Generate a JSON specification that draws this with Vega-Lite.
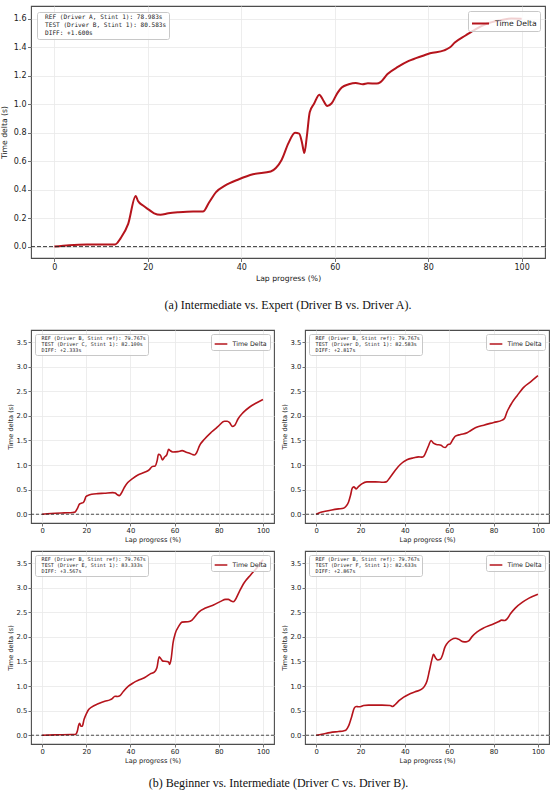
{
  "$schema": "https://vega.github.io/schema/vega-lite/v6.json",
  "padding": {"left": 0, "top": 5, "right": 3, "bottom": 4},
  "spacing": 17,
  "align": "none",
  "bounds": "full",
  "datasets": {
    "a": [
      {"x": 0, "y": 0}, {"x": 3.2, "y": 0.01}, {"x": 7, "y": 0.015}, {"x": 10.7, "y": 0.015}, {"x": 13, "y": 0.015},
      {"x": 14.2, "y": 0.06}, {"x": 15.8, "y": 0.16}, {"x": 17.4, "y": 0.356}, {"x": 17.9, "y": 0.32}, {"x": 18.9, "y": 0.29},
      {"x": 20.2, "y": 0.26}, {"x": 21.35, "y": 0.234}, {"x": 22.7, "y": 0.224}, {"x": 24.4, "y": 0.234}, {"x": 26.6, "y": 0.241},
      {"x": 29.7, "y": 0.246}, {"x": 31.8, "y": 0.246}, {"x": 33.1, "y": 0.31}, {"x": 34.6, "y": 0.383}, {"x": 36.5, "y": 0.428},
      {"x": 39.5, "y": 0.473}, {"x": 42.5, "y": 0.508}, {"x": 46.3, "y": 0.527}, {"x": 47.4, "y": 0.552}, {"x": 48.6, "y": 0.607},
      {"x": 50.1, "y": 0.727}, {"x": 51.5, "y": 0.8}, {"x": 52.4, "y": 0.794}, {"x": 53, "y": 0.73}, {"x": 53.5, "y": 0.657},
      {"x": 54.05, "y": 0.78}, {"x": 54.65, "y": 0.943}, {"x": 55.6, "y": 1.005}, {"x": 56.7, "y": 1.067}, {"x": 57.5, "y": 1.03},
      {"x": 58.4, "y": 0.988}, {"x": 59.3, "y": 1.005}, {"x": 60.6, "y": 1.08}, {"x": 61.5, "y": 1.117}, {"x": 63, "y": 1.14},
      {"x": 64.5, "y": 1.15}, {"x": 66, "y": 1.14}, {"x": 67.1, "y": 1.147}, {"x": 69, "y": 1.145}, {"x": 69.8, "y": 1.155},
      {"x": 71.3, "y": 1.212}, {"x": 73.6, "y": 1.264}, {"x": 75.85, "y": 1.304}, {"x": 78.9, "y": 1.341}, {"x": 80.4, "y": 1.358},
      {"x": 83.4, "y": 1.378}, {"x": 84.6, "y": 1.398}, {"x": 85.7, "y": 1.433}, {"x": 88, "y": 1.483}, {"x": 90.2, "y": 1.528},
      {"x": 92.5, "y": 1.565}, {"x": 95.5, "y": 1.59}, {"x": 97.8, "y": 1.602}, {"x": 100, "y": 1.6}
    ],
    "c": [
      {"x": 0, "y": 0}, {"x": 4.1, "y": 0.014}, {"x": 10.1, "y": 0.027}, {"x": 13.9, "y": 0.034}, {"x": 15, "y": 0.047},
      {"x": 15.9, "y": 0.108}, {"x": 17, "y": 0.21}, {"x": 17.7, "y": 0.223}, {"x": 18.6, "y": 0.237}, {"x": 19.2, "y": 0.278},
      {"x": 19.9, "y": 0.359}, {"x": 21, "y": 0.386}, {"x": 22.5, "y": 0.406}, {"x": 25.2, "y": 0.42}, {"x": 28.2, "y": 0.427},
      {"x": 32, "y": 0.44}, {"x": 33.1, "y": 0.433}, {"x": 34, "y": 0.4}, {"x": 35, "y": 0.379}, {"x": 35.8, "y": 0.42},
      {"x": 37.3, "y": 0.548}, {"x": 38.8, "y": 0.643}, {"x": 41.1, "y": 0.731}, {"x": 43.4, "y": 0.799}, {"x": 46.4, "y": 0.853},
      {"x": 48.6, "y": 0.907}, {"x": 49.8, "y": 0.968}, {"x": 51.2, "y": 0.982}, {"x": 52.1, "y": 1.09}, {"x": 52.7, "y": 1.219},
      {"x": 53.6, "y": 1.198}, {"x": 54.5, "y": 1.103}, {"x": 55.4, "y": 1.158}, {"x": 56.5, "y": 1.212}, {"x": 57.3, "y": 1.32},
      {"x": 58, "y": 1.293}, {"x": 59.2, "y": 1.266}, {"x": 61.5, "y": 1.273}, {"x": 63.4, "y": 1.293}, {"x": 65.3, "y": 1.259},
      {"x": 66.8, "y": 1.239}, {"x": 68.3, "y": 1.212}, {"x": 69, "y": 1.205}, {"x": 69.9, "y": 1.246}, {"x": 71.3, "y": 1.395},
      {"x": 73.6, "y": 1.53}, {"x": 76.6, "y": 1.666}, {"x": 79.6, "y": 1.781}, {"x": 82.6, "y": 1.889}, {"x": 83.8, "y": 1.889},
      {"x": 84.9, "y": 1.862}, {"x": 86.1, "y": 1.787}, {"x": 87.2, "y": 1.808}, {"x": 88.7, "y": 1.936}, {"x": 91, "y": 2.065},
      {"x": 94, "y": 2.18}, {"x": 97, "y": 2.261}, {"x": 100, "y": 2.333}
    ],
    "d": [
      {"x": 0, "y": 0}, {"x": 1.8, "y": 0.034}, {"x": 4.1, "y": 0.061}, {"x": 7.1, "y": 0.088}, {"x": 10.1, "y": 0.109},
      {"x": 12.3, "y": 0.122}, {"x": 13.4, "y": 0.156}, {"x": 14.6, "y": 0.244}, {"x": 15.5, "y": 0.38}, {"x": 16.3, "y": 0.529},
      {"x": 17, "y": 0.556}, {"x": 18.1, "y": 0.516}, {"x": 19.1, "y": 0.563}, {"x": 20.6, "y": 0.617}, {"x": 22.9, "y": 0.658},
      {"x": 26.7, "y": 0.658}, {"x": 30.4, "y": 0.651}, {"x": 31.6, "y": 0.658}, {"x": 33.4, "y": 0.753}, {"x": 35.7, "y": 0.896},
      {"x": 37.95, "y": 1.011}, {"x": 40.96, "y": 1.106}, {"x": 43.98, "y": 1.147}, {"x": 46.2, "y": 1.167}, {"x": 47.7, "y": 1.16},
      {"x": 48.5, "y": 1.174}, {"x": 49.5, "y": 1.262}, {"x": 50.75, "y": 1.398}, {"x": 51.8, "y": 1.499}, {"x": 52.9, "y": 1.445},
      {"x": 54.2, "y": 1.418}, {"x": 56.3, "y": 1.404}, {"x": 57.2, "y": 1.37}, {"x": 58.3, "y": 1.357}, {"x": 59.3, "y": 1.411},
      {"x": 60.5, "y": 1.431}, {"x": 61.6, "y": 1.513}, {"x": 62.8, "y": 1.587}, {"x": 65.1, "y": 1.621}, {"x": 68.1, "y": 1.655},
      {"x": 69.1, "y": 1.683}, {"x": 71.8, "y": 1.757}, {"x": 75.6, "y": 1.811}, {"x": 80.1, "y": 1.866}, {"x": 83.9, "y": 1.913},
      {"x": 85.1, "y": 1.961}, {"x": 86.1, "y": 2.083}, {"x": 88.4, "y": 2.273}, {"x": 90.7, "y": 2.415}, {"x": 93.7, "y": 2.585},
      {"x": 96.7, "y": 2.693}, {"x": 100, "y": 2.817}
    ],
    "e": [
      {"x": 0, "y": 0}, {"x": 5.6, "y": 0.007}, {"x": 13.2, "y": 0.014}, {"x": 15, "y": 0.014}, {"x": 15.96, "y": 0.081},
      {"x": 16.6, "y": 0.21}, {"x": 17, "y": 0.244}, {"x": 17.6, "y": 0.183}, {"x": 18.2, "y": 0.183}, {"x": 19, "y": 0.319},
      {"x": 20.1, "y": 0.441}, {"x": 21.1, "y": 0.522}, {"x": 22.6, "y": 0.577}, {"x": 25.4, "y": 0.638}, {"x": 28.4, "y": 0.692},
      {"x": 30.7, "y": 0.719}, {"x": 31.8, "y": 0.746}, {"x": 33, "y": 0.794}, {"x": 34.2, "y": 0.787}, {"x": 35.3, "y": 0.807},
      {"x": 36.8, "y": 0.889}, {"x": 39.1, "y": 0.997}, {"x": 41.3, "y": 1.065}, {"x": 44.4, "y": 1.133}, {"x": 46.7, "y": 1.18},
      {"x": 49, "y": 1.248}, {"x": 50.8, "y": 1.282}, {"x": 52, "y": 1.37}, {"x": 53, "y": 1.594}, {"x": 53.8, "y": 1.554},
      {"x": 54.7, "y": 1.506}, {"x": 56.5, "y": 1.499}, {"x": 57.3, "y": 1.486}, {"x": 57.75, "y": 1.438}, {"x": 58.4, "y": 1.54},
      {"x": 59.3, "y": 1.879}, {"x": 60.3, "y": 2.069}, {"x": 61.9, "y": 2.218}, {"x": 63.4, "y": 2.3}, {"x": 66.1, "y": 2.307},
      {"x": 67.9, "y": 2.341}, {"x": 69.1, "y": 2.402}, {"x": 70.97, "y": 2.503}, {"x": 74, "y": 2.585}, {"x": 77.8, "y": 2.653},
      {"x": 80.85, "y": 2.721}, {"x": 83.1, "y": 2.761}, {"x": 84.35, "y": 2.761}, {"x": 85.4, "y": 2.734}, {"x": 86.5, "y": 2.714},
      {"x": 87.4, "y": 2.748}, {"x": 89.2, "y": 2.91}, {"x": 91.5, "y": 3.1}, {"x": 94.5, "y": 3.263}, {"x": 97.6, "y": 3.42},
      {"x": 100, "y": 3.567}
    ],
    "f": [
      {"x": 0, "y": 0}, {"x": 2.6, "y": 0.02}, {"x": 6.3, "y": 0.054}, {"x": 10.1, "y": 0.075}, {"x": 12.3, "y": 0.088},
      {"x": 13.4, "y": 0.102}, {"x": 14.6, "y": 0.184}, {"x": 16.1, "y": 0.388}, {"x": 17.2, "y": 0.551}, {"x": 18.1, "y": 0.585},
      {"x": 19.1, "y": 0.578}, {"x": 20.3, "y": 0.585}, {"x": 21.4, "y": 0.605}, {"x": 23.6, "y": 0.612}, {"x": 29.7, "y": 0.612},
      {"x": 33.4, "y": 0.605}, {"x": 34.5, "y": 0.585}, {"x": 35.7, "y": 0.625}, {"x": 37.5, "y": 0.707}, {"x": 39.5, "y": 0.775},
      {"x": 41.7, "y": 0.829}, {"x": 44.7, "y": 0.884}, {"x": 47.4, "y": 0.931}, {"x": 48.9, "y": 0.999}, {"x": 50, "y": 1.101},
      {"x": 51.05, "y": 1.305}, {"x": 52.3, "y": 1.557}, {"x": 52.9, "y": 1.645}, {"x": 53.8, "y": 1.577}, {"x": 54.8, "y": 1.53},
      {"x": 56, "y": 1.543}, {"x": 57.1, "y": 1.645}, {"x": 58, "y": 1.781}, {"x": 59, "y": 1.863}, {"x": 61, "y": 1.944},
      {"x": 62.8, "y": 1.971}, {"x": 64.3, "y": 1.951}, {"x": 66.1, "y": 1.903}, {"x": 67.6, "y": 1.897}, {"x": 68.8, "y": 1.917},
      {"x": 70.3, "y": 2.005}, {"x": 72.6, "y": 2.101}, {"x": 75.6, "y": 2.182}, {"x": 79.4, "y": 2.25}, {"x": 82.4, "y": 2.311},
      {"x": 83.6, "y": 2.339}, {"x": 85.1, "y": 2.332}, {"x": 86.1, "y": 2.366}, {"x": 87.7, "y": 2.474}, {"x": 89.9, "y": 2.59},
      {"x": 92.9, "y": 2.699}, {"x": 96, "y": 2.787}, {"x": 100, "y": 2.867}
    ],
    "na": [
      {"k": 1, "t": "REF (Driver A, Stint 1): 78.983s"},
      {"k": 2, "t": "TEST (Driver B, Stint 1): 80.583s"},
      {"k": 3, "t": "DIFF: +1.600s"}
    ],
    "nc": [
      {"k": 1, "t": "REF (Driver B, Stint ref): 79.767s"},
      {"k": 2, "t": "TEST (Driver C, Stint 1): 82.100s"},
      {"k": 3, "t": "DIFF: +2.333s"}
    ],
    "nd": [
      {"k": 1, "t": "REF (Driver B, Stint ref): 79.767s"},
      {"k": 2, "t": "TEST (Driver D, Stint 1): 82.583s"},
      {"k": 3, "t": "DIFF: +2.817s"}
    ],
    "ne": [
      {"k": 1, "t": "REF (Driver B, Stint ref): 79.767s"},
      {"k": 2, "t": "TEST (Driver E, Stint 1): 83.333s"},
      {"k": 3, "t": "DIFF: +3.567s"}
    ],
    "nf": [
      {"k": 1, "t": "REF (Driver B, Stint ref): 79.767s"},
      {"k": 2, "t": "TEST (Driver F, Stint 1): 82.633s"},
      {"k": 3, "t": "DIFF: +2.867s"}
    ]
  },
  "vconcat": [
    {
      "width": 514,
      "height": 252,
      "title": {"text": "(a) Intermediate vs. Expert (Driver B vs. Driver A).", "offset": 18},
      "layer": [
        {
          "data": {"name": "a"},
          "mark": {"type": "line", "interpolate": "monotone", "strokeWidth": 2},
          "encoding": {
            "x": {
              "field": "x", "type": "quantitative",
              "scale": {"domain": [-5, 105], "nice": false},
              "axis": {"values": [0, 20, 40, 60, 80, 100], "tickCount": 20, "title": "Lap progress (%)", "labelFontSize": 8, "titleFontSize": 7.7, "tickSize": 3.5, "labelPadding": 1.5, "titlePadding": 3}
            },
            "y": {
              "field": "y", "type": "quantitative",
              "scale": {"domain": [-0.08, 1.69], "nice": false, "zero": false},
              "axis": {"values": [0, 0.2, 0.4, 0.6, 0.8, 1, 1.2, 1.4, 1.6], "tickCount": 20, "format": ".1f", "title": "Time delta (s)", "labelFontSize": 8, "titleFontSize": 7.7, "tickSize": 3.5, "labelPadding": 1.5, "titlePadding": 4.5}
            },
            "color": {
              "datum": "Time Delta",
              "scale": {"range": ["#b5141c"]},
              "legend": {"orient": "top-right", "offset": 5, "labelFontSize": 7.7, "symbolSize": 289, "symbolStrokeWidth": 2, "padding": 3, "labelOffset": 5}
            }
          }
        },
        {
          "data": {"values": [{}]},
          "mark": {"type": "rule", "strokeDash": [4, 2], "color": "#222", "strokeWidth": 0.9},
          "encoding": {"y": {"datum": 0}}
        },
        {
          "data": {"name": "na"},
          "mark": {"type": "text", "opacity": 0},
          "encoding": {
            "fill": {
              "field": "t", "type": "nominal",
              "sort": {"field": "k", "op": "min"},
              "scale": {"range": ["#000000"]},
              "legend": {"orient": "top-left", "offset": 6, "labelFont": "DejaVu Sans Mono", "labelFontSize": 6.1, "rowPadding": 1.1, "padding": 2, "symbolType": "circle", "symbolSize": 0, "symbolOpacity": 0, "symbolStrokeWidth": 0, "labelOffset": 0}
            }
          }
        }
      ]
    },
    {
      "title": {"text": "(b) Beginner vs. Intermediate (Driver C vs. Driver B).", "offset": 14},
      "spacing": 6,
      "vconcat": [
        {
          "spacing": 5,
          "hconcat": [
            {
              "width": 243, "height": 193,
              "layer": [
                {
                  "data": {"name": "c"},
                  "mark": {"type": "line", "interpolate": "monotone", "strokeWidth": 1.6},
                  "encoding": {
                    "x": {"field": "x", "type": "quantitative", "scale": {"domain": [-5, 105], "nice": false}, "axis": {"values": [0, 20, 40, 60, 80, 100], "tickCount": 20, "title": "Lap progress (%)"}},
                    "y": {"field": "y", "type": "quantitative", "scale": {"domain": [-0.178, 3.745], "nice": false, "zero": false}, "axis": {"values": [0, 0.5, 1, 1.5, 2, 2.5, 3, 3.5], "tickCount": 20, "format": ".1f", "title": "Time delta (s)", "titlePadding": 2.5}},
                    "color": {"datum": "Time Delta", "scale": {"range": ["#b5141c"]}, "legend": {"orient": "top-right", "offset": 4}}
                  }
                },
                {"data": {"values": [{}]}, "mark": {"type": "rule", "strokeDash": [3, 2], "color": "#222", "strokeWidth": 0.8}, "encoding": {"y": {"datum": 0}}},
                {
                  "data": {"name": "nc"},
                  "mark": {"type": "text", "opacity": 0},
                  "encoding": {"fill": {"field": "t", "type": "nominal", "sort": {"field": "k", "op": "min"}, "scale": {"range": ["#000000"]}, "legend": {"orient": "top-left", "offset": 4, "labelFont": "DejaVu Sans Mono", "labelFontSize": 5.1, "rowPadding": -0.7, "padding": 1.5, "symbolType": "circle", "symbolSize": 0, "symbolOpacity": 0, "symbolStrokeWidth": 0, "labelOffset": 0}}}
                }
              ]
            },
            {
              "width": 244, "height": 193,
              "layer": [
                {
                  "data": {"name": "d"},
                  "mark": {"type": "line", "interpolate": "monotone", "strokeWidth": 1.6},
                  "encoding": {
                    "x": {"field": "x", "type": "quantitative", "scale": {"domain": [-5, 105], "nice": false}, "axis": {"values": [0, 20, 40, 60, 80, 100], "tickCount": 20, "title": "Lap progress (%)"}},
                    "y": {"field": "y", "type": "quantitative", "scale": {"domain": [-0.178, 3.745], "nice": false, "zero": false}, "axis": {"values": [0, 0.5, 1, 1.5, 2, 2.5, 3, 3.5], "tickCount": 20, "format": ".1f", "title": "Time delta (s)", "titlePadding": 2.5}},
                    "color": {"datum": "Time Delta", "scale": {"range": ["#b5141c"]}, "legend": {"orient": "top-right", "offset": 4}}
                  }
                },
                {"data": {"values": [{}]}, "mark": {"type": "rule", "strokeDash": [3, 2], "color": "#222", "strokeWidth": 0.8}, "encoding": {"y": {"datum": 0}}},
                {
                  "data": {"name": "nd"},
                  "mark": {"type": "text", "opacity": 0},
                  "encoding": {"fill": {"field": "t", "type": "nominal", "sort": {"field": "k", "op": "min"}, "scale": {"range": ["#000000"]}, "legend": {"orient": "top-left", "offset": 4, "labelFont": "DejaVu Sans Mono", "labelFontSize": 5.1, "rowPadding": -0.7, "padding": 1.5, "symbolType": "circle", "symbolSize": 0, "symbolOpacity": 0, "symbolStrokeWidth": 0, "labelOffset": 0}}}
                }
              ]
            }
          ],
          "resolve": {"scale": {"color": "independent", "fill": "independent"}, "legend": {"color": "independent", "fill": "independent"}}
        },
        {
          "spacing": 5,
          "hconcat": [
            {
              "width": 243, "height": 193,
              "layer": [
                {
                  "data": {"name": "e"},
                  "mark": {"type": "line", "interpolate": "monotone", "strokeWidth": 1.6},
                  "encoding": {
                    "x": {"field": "x", "type": "quantitative", "scale": {"domain": [-5, 105], "nice": false}, "axis": {"values": [0, 20, 40, 60, 80, 100], "tickCount": 20, "title": "Lap progress (%)"}},
                    "y": {"field": "y", "type": "quantitative", "scale": {"domain": [-0.178, 3.745], "nice": false, "zero": false}, "axis": {"values": [0, 0.5, 1, 1.5, 2, 2.5, 3, 3.5], "tickCount": 20, "format": ".1f", "title": "Time delta (s)", "titlePadding": 2.5}},
                    "color": {"datum": "Time Delta", "scale": {"range": ["#b5141c"]}, "legend": {"orient": "top-right", "offset": 4}}
                  }
                },
                {"data": {"values": [{}]}, "mark": {"type": "rule", "strokeDash": [3, 2], "color": "#222", "strokeWidth": 0.8}, "encoding": {"y": {"datum": 0}}},
                {
                  "data": {"name": "ne"},
                  "mark": {"type": "text", "opacity": 0},
                  "encoding": {"fill": {"field": "t", "type": "nominal", "sort": {"field": "k", "op": "min"}, "scale": {"range": ["#000000"]}, "legend": {"orient": "top-left", "offset": 4, "labelFont": "DejaVu Sans Mono", "labelFontSize": 5.1, "rowPadding": -0.7, "padding": 1.5, "symbolType": "circle", "symbolSize": 0, "symbolOpacity": 0, "symbolStrokeWidth": 0, "labelOffset": 0}}}
                }
              ]
            },
            {
              "width": 244, "height": 193,
              "layer": [
                {
                  "data": {"name": "f"},
                  "mark": {"type": "line", "interpolate": "monotone", "strokeWidth": 1.6},
                  "encoding": {
                    "x": {"field": "x", "type": "quantitative", "scale": {"domain": [-5, 105], "nice": false}, "axis": {"values": [0, 20, 40, 60, 80, 100], "tickCount": 20, "title": "Lap progress (%)"}},
                    "y": {"field": "y", "type": "quantitative", "scale": {"domain": [-0.178, 3.745], "nice": false, "zero": false}, "axis": {"values": [0, 0.5, 1, 1.5, 2, 2.5, 3, 3.5], "tickCount": 20, "format": ".1f", "title": "Time delta (s)", "titlePadding": 2.5}},
                    "color": {"datum": "Time Delta", "scale": {"range": ["#b5141c"]}, "legend": {"orient": "top-right", "offset": 4}}
                  }
                },
                {"data": {"values": [{}]}, "mark": {"type": "rule", "strokeDash": [3, 2], "color": "#222", "strokeWidth": 0.8}, "encoding": {"y": {"datum": 0}}},
                {
                  "data": {"name": "nf"},
                  "mark": {"type": "text", "opacity": 0},
                  "encoding": {"fill": {"field": "t", "type": "nominal", "sort": {"field": "k", "op": "min"}, "scale": {"range": ["#000000"]}, "legend": {"orient": "top-left", "offset": 4, "labelFont": "DejaVu Sans Mono", "labelFontSize": 5.1, "rowPadding": -0.7, "padding": 1.5, "symbolType": "circle", "symbolSize": 0, "symbolOpacity": 0, "symbolStrokeWidth": 0, "labelOffset": 0}}}
                }
              ]
            }
          ],
          "resolve": {"scale": {"color": "independent", "fill": "independent"}, "legend": {"color": "independent", "fill": "independent"}}
        }
      ],
      "resolve": {"scale": {"color": "independent", "fill": "independent"}, "legend": {"color": "independent", "fill": "independent"}}
    }
  ],
  "resolve": {"scale": {"color": "independent", "fill": "independent"}, "legend": {"color": "independent", "fill": "independent"}},
  "config": {
    "font": "DejaVu Sans",
    "background": "white",
    "view": {"stroke": "#4d4d4d", "strokeWidth": 1.1},
    "axis": {
      "domain": false,
      "grid": true,
      "gridColor": "#e8e8e8",
      "gridWidth": 0.8,
      "ticks": true,
      "tickColor": "#4d4d4d",
      "tickSize": 3,
      "tickWidth": 0.8,
      "labelColor": "#222222",
      "labelFont": "DejaVu Sans",
      "labelFontSize": 6.8,
      "labelPadding": 1.2,
      "labelOverlap": false,
      "titleColor": "#222222",
      "titleFont": "DejaVu Sans",
      "titleFontSize": 6.6,
      "titleFontWeight": "normal",
      "titlePadding": 2
    },
    "legend": {
      "title": null,
      "strokeColor": "#c8c8c8",
      "fillColor": "rgba(255,255,255,0.8)",
      "cornerRadius": 2,
      "padding": 2.5,
      "labelColor": "#222222",
      "labelFontSize": 6.3,
      "labelOffset": 4,
      "symbolType": "stroke",
      "symbolSize": 160,
      "symbolStrokeWidth": 1.5
    },
    "title": {
      "orient": "bottom",
      "anchor": "middle",
      "font": "Liberation Serif",
      "fontSize": 12,
      "fontWeight": "normal",
      "color": "#111111"
    }
  }
}
